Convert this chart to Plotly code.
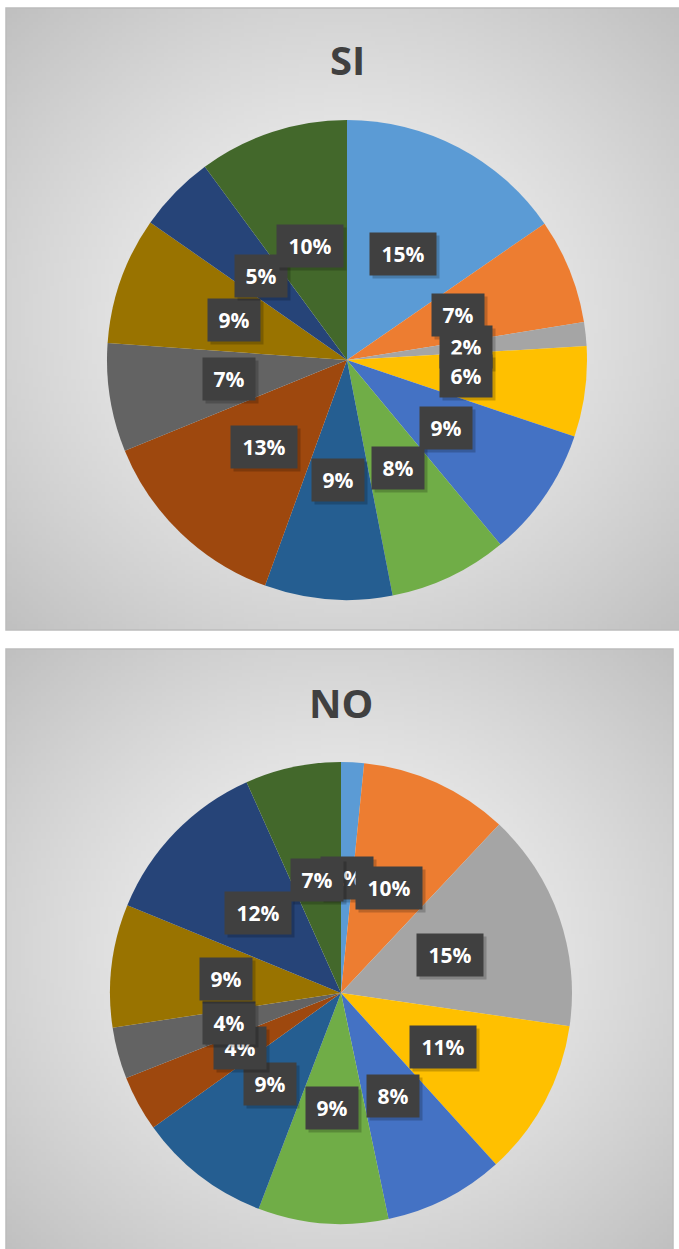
import base64, struct, zlib, math
import numpy as np
import plotly.graph_objects as go

W, H = 679, 1249

categories = ["Cat 1", "Cat 2", "Cat 3", "Cat 4", "Cat 5", "Cat 6",
              "Cat 7", "Cat 8", "Cat 9", "Cat 10", "Cat 11", "Cat 12"]
si_values = [15.4, 7.1, 1.6, 6.1, 8.8, 8.0, 8.6, 13.3, 7.3, 8.6, 5.2, 10.1]
no_values = [1.6, 10.4, 15.3, 11.0, 8.4, 9.1, 9.3, 3.9, 3.6, 8.6, 12.1, 6.7]
colors = ["#5B9BD5", "#ED7D31", "#A5A5A5", "#FFC000", "#4472C4", "#70AD47",
          "#255E91", "#9E480E", "#636363", "#997300", "#264478", "#43682B"]


def png_uri(arr):
    h, w = arr.shape
    raw = b"".join(b"\x00" + arr[i].tobytes() for i in range(h))

    def chunk(t, d):
        c = struct.pack(">I", len(d)) + t + d
        return c + struct.pack(">I", zlib.crc32(t + d) & 0xffffffff)
    png = b"\x89PNG\r\n\x1a\n" + chunk(b"IHDR", struct.pack(">IIBBBBB", w, h, 8, 0, 0, 0, 0))
    png += chunk(b"IDAT", zlib.compress(raw, 9)) + chunk(b"IEND", b"")
    return "data:image/png;base64," + base64.b64encode(png).decode()


n = 160
yy, xx = np.mgrid[0:n, 0:n]
d = np.sqrt(((xx - n / 2 + 0.5) / (n / 2)) ** 2 + ((yy - n / 2 + 0.5) / (n / 2)) ** 2) / math.sqrt(2)
grad = np.clip(246 - (246 - 192) * d ** 1.3, 0, 255).astype(np.uint8)
bg_uri = png_uri(grad)

fig = go.Figure()

boxes = [(6, 8, 680, 630), (6, 649, 673, 1252)]
for (x0, y0, x1, y1) in boxes:
    fig.add_layout_image(source=bg_uri, xref="paper", yref="paper",
                         x=x0 / W, y=1 - y0 / H, sizex=(x1 - x0) / W, sizey=(y1 - y0) / H,
                         xanchor="left", yanchor="top", sizing="stretch", layer="below")
    fig.add_shape(type="rect", xref="paper", yref="paper",
                  x0=x0 / W, x1=x1 / W, y0=1 - y1 / H, y1=1 - y0 / H,
                  line=dict(color="#bcbcbc", width=1.5), fillcolor="rgba(0,0,0,0)", layer="below")

pies = [
    ("SI", si_values, 347, 360, 240, 59),
    ("NO", no_values, 341, 993, 231, 702),
]

annotations = []
for title, vals, cx, cy, r, ty in pies:
    fig.add_trace(go.Pie(
        labels=categories, values=vals, sort=False, direction="clockwise", rotation=0,
        marker=dict(colors=colors, line=dict(width=0)), textinfo="none",
        hoverinfo="label+percent", showlegend=False,
        domain=dict(x=[(cx - r) / W, (cx + r) / W], y=[1 - (cy + r) / H, 1 - (cy - r) / H]),
    ))
    annotations.append(dict(text="<b>%s</b>" % title, xref="paper", yref="paper",
                            x=cx / W, y=1 - ty / H, xanchor="center", yanchor="middle",
                            showarrow=False,
                            font=dict(family="Open Sans", size=40, color="#404040")))
    total = sum(vals)
    cum = 0.0
    for v in vals:
        mid = (cum + v / 2) / total * 2 * math.pi
        cum += v
        px = cx + 0.5 * r * math.sin(mid)
        py = cy - 0.5 * r * math.cos(mid)
        pct = round(v / total * 100)
        txt = "<b>%d%%</b>" % pct
        bw = 50 if pct < 10 else 64
        annotations.append(dict(text="", xref="paper", yref="paper",
                                x=(px + 3) / W, y=1 - (py + 3) / H,
                                xanchor="center", yanchor="middle", showarrow=False,
                                width=bw, height=40, bgcolor="rgba(0,0,0,0.2)",
                                font=dict(size=4)))
        annotations.append(dict(text=txt, xref="paper", yref="paper",
                                x=px / W, y=1 - py / H,
                                xanchor="center", yanchor="middle", showarrow=False,
                                width=bw, height=40, bgcolor="#404040",
                                font=dict(family="Open Sans", size=21, color="white")))

fig.update_layout(width=W, height=H, margin=dict(l=0, r=0, t=0, b=0),
                  paper_bgcolor="white", annotations=annotations)
fig.write_html("out.html")
